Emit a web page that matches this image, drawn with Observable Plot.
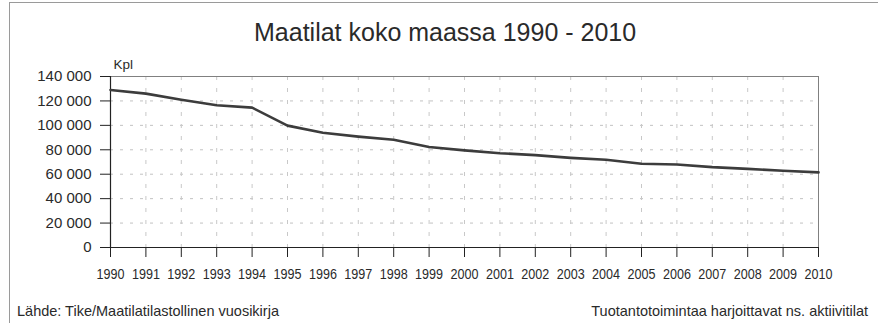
<!DOCTYPE html>
<html><head><meta charset="utf-8">
<script src="https://cdn.jsdelivr.net/npm/d3@7"></script>
<script src="https://cdn.jsdelivr.net/npm/@observablehq/plot@0.6"></script>
<style>
body{margin:0;background:#fff;font-family:"Liberation Sans",Arial,sans-serif;}
#wrap{position:relative;width:878px;height:323px;overflow:hidden;background:#fff;}
#frame{position:absolute;left:9px;top:2px;right:-5px;bottom:-5px;border-left:1px solid #9a9a9a;border-top:1px solid #9a9a9a;}
.t{position:absolute;white-space:nowrap;color:#2a2a2a;line-height:1;}
#chart{position:absolute;left:0;top:52px;}
</style></head><body>
<div id="wrap">
<div id="frame"></div>
<div class="t" style="left:254px;top:20px;font-size:25px;">Maatilat koko maassa 1990 - 2010</div>
<div id="chart"></div>
<div class="t" style="left:17px;top:304px;font-size:14.5px;">Lähde: Tike/Maatilatilastollinen vuosikirja</div>
<div class="t" style="right:10px;top:304px;font-size:14.5px;">Tuotantotoimintaa harjoittavat ns. aktiivitilat</div>
</div>
<script>
const years = [1990,1991,1992,1993,1994,1995,1996,1997,1998,1999,2000,2001,2002,2003,2004,2005,2006,2007,2008,2009,2010];
const farms = [129000,126000,121000,116500,114500,99800,94000,90800,88200,82300,79500,77200,75600,73400,71800,68600,68000,65800,64400,62800,61500];
const yTicks = [0,20000,40000,60000,80000,100000,120000,140000];
const yGrid = [20000,40000,60000,80000,100000,120000];
const xGrid = years.slice(1, -1);
const yUnit = "Kpl";

const fmt = d => d3.format(",")(d).replace(/,/g, " ");
const data = years.map((y, i) => ({year: y, value: farms[i]}));

const svg = Plot.plot({
  width: 878,
  height: 238,
  marginLeft: 110,
  marginRight: 60,
  marginTop: 24,
  marginBottom: 43,
  style: {fontFamily: "'Liberation Sans', Arial, sans-serif", fontSize: "15px", color: "#2a2a2a", background: "transparent"},
  x: {domain: [years[0], years[years.length - 1]]},
  y: {domain: [yTicks[0], yTicks[yTicks.length - 1]]},
  marks: [
    Plot.gridY(yGrid, {stroke: "#c2c2c2", strokeOpacity: 1, strokeDasharray: "3,7"}),
    Plot.gridX(xGrid, {stroke: "#c8c8c8", strokeOpacity: 1, strokeDasharray: "4,8"}),
    Plot.ruleY([yTicks[yTicks.length - 1]], {stroke: "#808080", strokeWidth: 1}),
    Plot.ruleX([years[years.length - 1]], {stroke: "#808080", strokeWidth: 1}),
    Plot.axisY({ticks: yTicks, tickFormat: fmt, tickSize: 10, tickPadding: 9, label: null, stroke: "#222"}),
    Plot.axisX({ticks: years, tickFormat: d => String(d), tickSize: 10, tickPadding: 11, label: null, stroke: "#222"}),
    Plot.ruleY([0], {stroke: "#222", strokeWidth: 1.2}),
    Plot.ruleX([years[0]], {stroke: "#222", strokeWidth: 1.2}),
    Plot.line(data, {x: "year", y: "value", stroke: "#3c3c3c", strokeWidth: 2.6}),
    Plot.text([yUnit], {frameAnchor: "top-left", text: d => d, dx: 3, dy: -8, textAnchor: "start", lineAnchor: "bottom", fill: "#2a2a2a"})
  ]
});
d3.select(svg).selectAll("text").each(function() {
  const el = d3.select(this);
  const t = el.text().trim();
  if (/^\d{4}$/.test(t)) {
    el.style("font-size", "15px").attr("textLength", 28).attr("lengthAdjust", "spacingAndGlyphs");
  } else if (t === yUnit) {
    el.style("font-size", "13.5px");
  } else {
    el.style("font-size", "15px");
  }
});
document.getElementById("chart").appendChild(svg);
</script>
</body></html>
